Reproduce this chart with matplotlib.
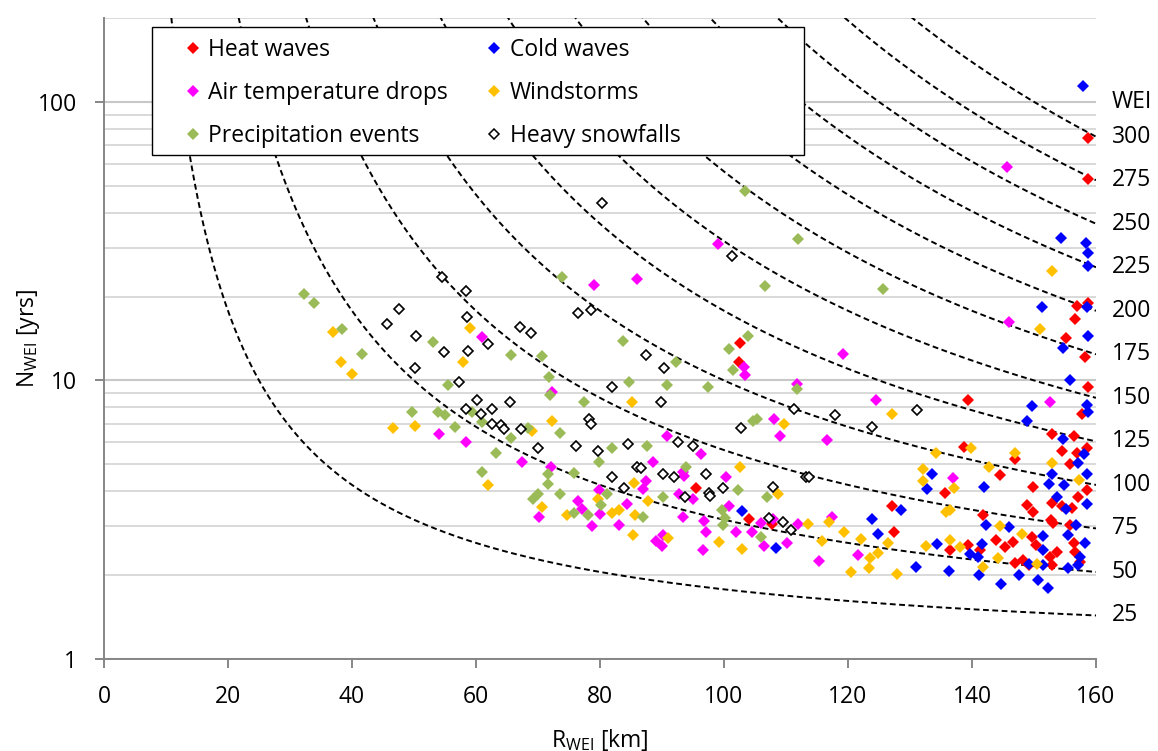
import numpy as np
import matplotlib
matplotlib.use("Agg")
import matplotlib.pyplot as plt
from matplotlib.lines import Line2D
from matplotlib.patches import Rectangle
import matplotlib.transforms as mtransforms
from matplotlib.ticker import LogLocator, NullFormatter, FixedLocator

plt.rcParams['font.family'] = ['Open Sans', 'DejaVu Sans']
plt.rcParams['mathtext.fontset'] = 'custom'
plt.rcParams['mathtext.rm'] = 'Open Sans'
plt.rcParams['mathtext.it'] = 'Open Sans'

# ---------------- data ----------------
series_names = ["Heat waves", "Cold waves", "Air temperature drops",
                "Windstorms", "Precipitation events", "Heavy snowfalls"]

heat_R = [102.6, 102.4, 95.5, 104.0, 107.7, 139.4, 138.7, 146.9, 144.5, 135.6, 127.1, 127.4,
          136.5, 139.4, 141.8, 143.9, 145.3, 146.6, 141.3, 146.9, 158.7, 158.7, 158.7, 157.7,
          152.9, 156.5, 154.5, 156.9, 158.5, 155.8, 149.8, 158.5, 157.1, 148.9, 149.8, 152.9,
          154.5, 156.1, 152.7, 153.1, 155.8, 149.7, 150.3, 148.2, 149.2, 152.6, 153.7, 152.9,
          156.5, 156.6, 157.4, 156.9, 158.7, 156.6, 155.2, 158.2]
heat_N = [13.6, 11.6, 4.1, 3.18, 3.05, 8.5, 5.77, 5.23, 4.58, 3.95, 3.54, 2.86,
          2.46, 2.57, 3.29, 2.67, 2.52, 2.63, 2.46, 2.21, 74.3, 52.9, 9.5, 7.6,
          6.4, 6.3, 5.6, 5.5, 5.7, 5.0, 4.15, 4.04, 3.8, 3.57, 3.37, 3.63,
          3.54, 3.48, 3.16, 3.08, 3.03, 2.74, 2.57, 2.27, 2.18, 2.32, 2.42, 2.18,
          2.61, 2.42, 2.23, 18.5, 19.0, 16.6, 14.2, 12.1]

cold_R = [102.9, 108.4, 133.5, 132.7, 141.9, 128.5, 123.9, 124.8, 142.3, 146.0, 134.4, 141.6,
          139.7, 141.0, 131.0, 136.3, 141.1, 144.7, 147.6, 157.9, 155.8, 149.7, 148.9, 158.5,
          158.7, 154.7, 158.0, 157.1, 158.5, 152.9, 152.4, 154.8, 153.7, 155.2, 158.5, 156.8,
          151.5, 155.5, 151.5, 158.2, 157.4, 157.1, 155.5, 151.5, 149.2, 150.6, 152.3, 154.4,
          158.4, 158.7, 158.7, 151.3, 158.5, 158.7, 154.7]
cold_N = [3.4, 2.5, 4.62, 4.08, 4.15, 3.43, 3.18, 2.81, 3.03, 2.98, 2.59, 2.59,
          2.38, 2.32, 2.14, 2.07, 2.0, 1.86, 2.0, 114, 10.0, 8.1, 7.15, 8.17,
          7.7, 6.17, 5.45, 5.06, 4.62, 4.62, 4.25, 4.21, 3.82, 3.46, 3.6, 3.03,
          2.77, 2.79, 2.46, 2.61, 2.32, 2.18, 2.12, 2.18, 2.19, 1.92, 1.8, 32.5,
          31.2, 28.7, 25.8, 18.4, 18.4, 14.4, 13.1]

drops_R = [61.0, 72.3, 54.0, 58.4, 67.4, 72.1, 70.2, 99.0, 79.0, 86.0, 103.2, 103.4,
           111.8, 90.8, 96.3, 88.5, 108.1, 109.0, 87.4, 86.9, 79.8, 76.5, 77.1, 84.4,
           80.0, 78.7, 83.1, 93.4, 93.5, 100.3, 92.7, 95.0, 100.8, 93.4, 96.8, 97.1,
           89.0, 90.0, 90.2, 96.6, 101.9, 104.5, 106.0, 106.5, 107.9, 110.2, 111.9, 115.3,
           145.6, 146.0, 119.2, 124.5, 152.6, 116.6, 136.9, 117.4, 121.6]
drops_N = [14.3, 9.1, 6.4, 6.0, 5.1, 4.9, 3.24, 30.9, 22.0, 23.1, 11.2, 10.5,
           9.7, 6.3, 5.45, 5.1, 7.3, 6.3, 4.36, 4.08, 4.04, 3.7, 3.46, 3.6,
           3.32, 3.0, 3.03, 4.7, 4.54, 4.5, 3.9, 3.75, 3.54, 3.24, 3.13, 2.86,
           2.65, 2.55, 2.79, 2.46, 2.86, 2.86, 3.08, 2.55, 3.18, 2.61, 3.05, 2.25,
           58.4, 16.2, 12.45, 8.5, 8.4, 6.1, 4.47, 3.24, 2.36]

wind_R = [36.9, 38.2, 40.0, 59.0, 57.9, 72.3, 46.6, 50.2, 61.9, 69.0, 70.6, 85.2,
          85.5, 79.7, 74.7, 81.9, 83.1, 85.6, 87.7, 85.3, 91.0, 99.2, 102.9, 102.6,
          109.7, 108.7, 113.5, 115.8, 127.1, 134.2, 139.8, 146.9, 132.1, 132.1, 137.1, 142.7,
          135.8, 136.5, 144.5, 116.9, 119.4, 122.1, 126.5, 132.6, 136.5, 138.1, 124.8, 123.5,
          123.4, 120.5, 127.9, 141.8, 144.2, 152.9, 151.0, 152.9, 157.3, 148.1, 150.5]
wind_N = [14.9, 11.6, 10.55, 15.4, 11.6, 7.15, 6.75, 6.87, 4.2, 6.6, 3.5, 8.4,
          4.3, 3.75, 3.3, 3.34, 3.43, 3.29, 3.7, 2.79, 2.72, 2.63, 2.48, 4.9,
          7.0, 3.9, 3.05, 2.65, 7.6, 5.5, 5.7, 5.5, 4.8, 4.36, 4.1, 4.9,
          3.37, 3.43, 3.0, 3.1, 2.86, 2.7, 2.61, 2.55, 2.67, 2.52, 2.4, 2.31,
          2.12, 2.05, 2.02, 2.14, 2.31, 24.7, 15.3, 5.06, 4.4, 2.81, 2.19]

precip_R = [32.3, 33.9, 38.4, 41.6, 53.1, 55.5, 49.7, 53.9, 55.0, 59.4, 65.6, 70.6,
            71.8, 71.9, 73.9, 56.6, 61.0, 65.6, 63.2, 61.0, 68.4, 71.6, 71.6, 69.2,
            70.0, 73.5, 73.5, 103.4, 111.9, 106.6, 83.7, 103.9, 100.8, 92.3, 101.5, 84.7,
            90.8, 97.4, 111.8, 77.4, 81.9, 87.6, 79.8, 75.8, 93.9, 105.3, 104.7, 102.3,
            106.9, 81.1, 80.2, 75.8, 78.1, 90.2, 86.9, 99.7, 100.2, 99.8, 106.0, 125.6]
precip_N = [20.4, 19.0, 15.3, 12.45, 13.7, 9.6, 7.7, 7.7, 7.5, 7.7, 12.35, 12.2,
            10.3, 8.9, 23.5, 6.8, 7.1, 6.2, 5.5, 4.7, 6.75, 4.6, 4.25, 3.75,
            3.9, 6.5, 3.9, 47.9, 32.2, 21.8, 13.9, 14.4, 13.0, 11.6, 10.9, 9.9,
            9.6, 9.5, 9.3, 8.4, 5.7, 5.8, 5.1, 4.65, 4.9, 7.3, 7.15, 4.05,
            3.8, 3.9, 3.57, 3.34, 3.3, 3.8, 3.24, 3.43, 3.2, 3.03, 2.74, 21.3]

snow_R = [80.3, 101.3, 54.5, 58.4, 47.6, 45.6, 58.5, 50.3, 54.8, 58.7, 61.9, 67.1,
          68.9, 50.2, 57.3, 60.2, 58.4, 62.6, 65.5, 60.8, 62.6, 64.0, 64.5, 67.3,
          70.0, 76.5, 78.5, 87.4, 90.3, 81.9, 89.8, 78.2, 78.5, 76.1, 79.7, 84.5,
          92.6, 95.0, 102.7, 111.3, 81.9, 86.0, 86.6, 90.2, 91.9, 97.1, 99.8, 97.6,
          97.7, 93.7, 83.9, 107.9, 113.2, 113.7, 107.3, 109.5, 110.8, 117.9, 123.9, 131.1]
snow_N = [43.4, 28.0, 23.5, 21.0, 18.1, 15.9, 16.9, 14.4, 12.7, 12.8, 13.5, 15.6,
          14.8, 11.1, 9.9, 8.5, 7.9, 7.9, 8.4, 7.6, 7.0, 6.9, 6.7, 6.7,
          5.7, 17.5, 17.9, 12.35, 11.1, 9.5, 8.4, 7.3, 7.0, 5.8, 5.6, 5.9,
          6.0, 5.8, 6.75, 7.9, 4.5, 4.9, 4.85, 4.6, 4.5, 4.6, 4.1, 3.95,
          3.85, 3.8, 4.1, 4.15, 4.5, 4.5, 3.2, 3.1, 2.9, 7.5, 6.8, 7.8]

wei_levels = [25, 50, 75, 100, 125, 150, 175, 200, 225, 250, 275, 300]
x_ticks = [0, 20, 40, 60, 80, 100, 120, 140, 160]
y_ticks = [1, 10, 100]

colors = {"Heat waves": '#FF0000', "Cold waves": '#0000FF',
          "Air temperature drops": '#FF00FF', "Windstorms": '#FFC000',
          "Precipitation events": '#9BBB59'}

FS = 16.5
W, H = 1158, 751

# ---------------- figure ----------------
fig = plt.figure(figsize=(W / 100, H / 100), dpi=100)
ax = fig.add_axes([104 / W, 1 - 659 / H, 992 / W, (659 - 18) / H])
ax.set_yscale('log')
ax.set_xlim(0, 160)
ax.set_ylim(1, 200)

# gridlines
ax.yaxis.set_major_locator(FixedLocator(y_ticks))
ax.yaxis.set_minor_locator(LogLocator(base=10, subs=np.arange(2, 10)))
ax.yaxis.set_minor_formatter(NullFormatter())
ax.grid(True, which='minor', axis='y', color='#D9D9D9', lw=1.4, zorder=0)
ax.grid(True, which='major', axis='y', color='#C8C8C8', lw=1.5, zorder=0)
ax.set_axisbelow(True)

# iso-WEI curves
Rc = np.linspace(5, 160, 600)
for w in wei_levels:
    ax.plot(Rc, 10 ** (w / Rc), color='black', lw=1.4, ls=(0, (3, 1.8)), zorder=2)

mk = 6.6
ax.plot(heat_R, heat_N, 'D', color=colors["Heat waves"], ms=mk, mew=0, ls='none', zorder=3)
ax.plot(cold_R, cold_N, 'D', color=colors["Cold waves"], ms=mk, mew=0, ls='none', zorder=3)
ax.plot(drops_R, drops_N, 'D', color=colors["Air temperature drops"], ms=mk, mew=0, ls='none', zorder=3)
ax.plot(wind_R, wind_N, 'D', color=colors["Windstorms"], ms=mk, mew=0, ls='none', zorder=3)
ax.plot(precip_R, precip_N, 'D', color=colors["Precipitation events"], ms=mk, mew=0, ls='none', zorder=3)
ax.plot(snow_R, snow_N, 'D', mfc='white', mec='black', ms=mk - 1, mew=1.2, ls='none', zorder=3)

# spines/ticks
for s in ['top', 'right']:
    ax.spines[s].set_visible(False)
for s in ['left', 'bottom']:
    ax.spines[s].set_color('#868686')
    ax.spines[s].set_linewidth(1.4)
ax.set_xticks(x_ticks)
ax.set_yticklabels([str(v) for v in y_ticks])
ax.tick_params(axis='both', which='major', color='#868686', width=1.4, length=6.5,
               labelsize=FS, labelcolor='black')
ax.tick_params(axis='x', which='major', pad=12)
ax.tick_params(axis='y', which='major', pad=13)
ax.tick_params(axis='y', which='minor', length=0)

ax.set_xlabel(r'R$_{\mathrm{WEI}}$ [km]', fontsize=FS, labelpad=13)
ax.set_ylabel(r'N$_{\mathrm{WEI}}$ [yrs]', fontsize=FS, labelpad=-3)

# WEI labels on the right
trans = mtransforms.blended_transform_factory(ax.transAxes, ax.transData)
for w in wei_levels:
    ax.text(1.016, 10 ** (w / 160.0), str(w), transform=trans, ha='left', va='center',
            fontsize=FS, clip_on=False)
ax.text(1.016, 100, 'WEI', transform=trans, ha='left', va='center', fontsize=FS, clip_on=False)

# legend box
box = Rectangle((152 / W, 1 - 155 / H), 652 / W, 128 / H, transform=fig.transFigure,
                facecolor='white', edgecolor='black', lw=1.0, zorder=4, clip_on=False)
ax.add_patch(box)

def make_handle(name):
    if name == "Heavy snowfalls":
        return Line2D([], [], marker='D', mfc='white', mec='black', ls='none', ms=5.4, mew=1.1)
    return Line2D([], [], marker='D', color=colors[name], ls='none', ms=6.2, mew=0)

col1 = [series_names[0], series_names[2], series_names[4]]
col2 = [series_names[1], series_names[3], series_names[5]]
legs = []
for names, x0 in [(col1, 183.5), (col2, 485.0)]:
    lg = ax.legend([make_handle(n) for n in names], names, loc='upper left',
                   bbox_to_anchor=(x0 / W, 1 - 38 / H), bbox_transform=fig.transFigure,
                   fontsize=FS, frameon=False, handlelength=0.8, handletextpad=0.27,
                   labelspacing=0.82, borderpad=0, borderaxespad=0)
    lg.set_zorder(5)
    legs.append(lg)
ax.add_artist(legs[0])

fig.savefig('out.png', dpi=100)
